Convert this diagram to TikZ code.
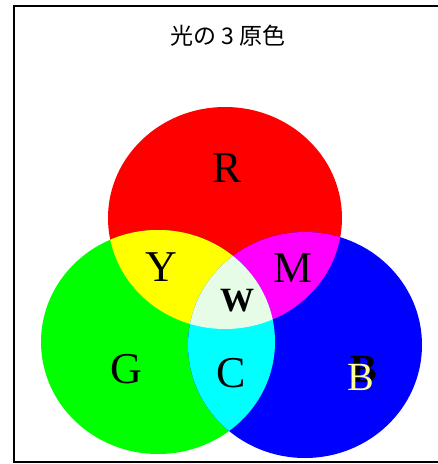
\documentclass[tikz,border=0pt]{standalone}
\usepackage{fontspec}
\setmainfont{Liberation Serif}
\newfontfamily\jpfont{Noto Sans CJK JP}
\definecolor{wcol}{RGB}{230,252,230}
\definecolor{byel}{RGB}{255,255,150}
\definecolor{pR}{RGB}{255,0,0}
\definecolor{pG}{RGB}{0,255,0}
\definecolor{pB}{RGB}{0,0,255}
\definecolor{pY}{RGB}{255,255,0}
\definecolor{pM}{RGB}{255,0,255}
\definecolor{pC}{RGB}{0,255,255}
\begin{document}
\begin{tikzpicture}[x=1pt,y=-1pt,
  lab/.style={inner sep=0pt, text=black, font=\fontsize{44}{44}\selectfont},
  framebox/.style={draw=black, line width=1.8pt}]
\useasboundingbox (0,0) rectangle (438,464);
\def\Rell{(225,218) ellipse [x radius=117pt, y radius=111pt]}
\def\Gell{(158,342) ellipse [x radius=117pt, y radius=112pt]}
\def\Bell{(305,345) ellipse [x radius=117pt, y radius=113pt]}
% frame
\draw[framebox] (14,6) rectangle (450,462);
% title
\node[inner sep=0pt, font=\jpfont\fontsize{23}{23}\selectfont] (title) at (228,36) {光の 3 原色};
% primaries
\fill[pR] \Rell;
\fill[pG] \Gell;
\fill[pB] \Bell;
% secondaries
\begin{scope}\clip \Rell; \fill[pY] \Gell; \end{scope}
\begin{scope}\clip \Rell; \fill[pM] \Bell; \end{scope}
\begin{scope}\clip \Gell; \fill[pC] \Bell; \end{scope}
\begin{scope}\clip \Rell; \clip \Gell; \fill[wcol] \Bell; \end{scope}
% labels
\node[lab] (r) at (227,168) {R};
\node[lab] (y) at (161,267) {Y};
\node[lab] (m) at (293,268) {M};
\node[lab, font=\bfseries\fontsize{34}{34}\selectfont] (w) at (237,301) {W};
\node[lab] (c) at (231,373) {C};
\node[lab] (g) at (126,369) {G};
\node[lab, font=\bfseries\fontsize{40}{40}\selectfont] (bshadow) at (364,369) {B};
\node[lab, text=byel, font=\fontsize{40}{40}\selectfont] (b) at (360.5,377) {B};
\end{tikzpicture}
\end{document}
